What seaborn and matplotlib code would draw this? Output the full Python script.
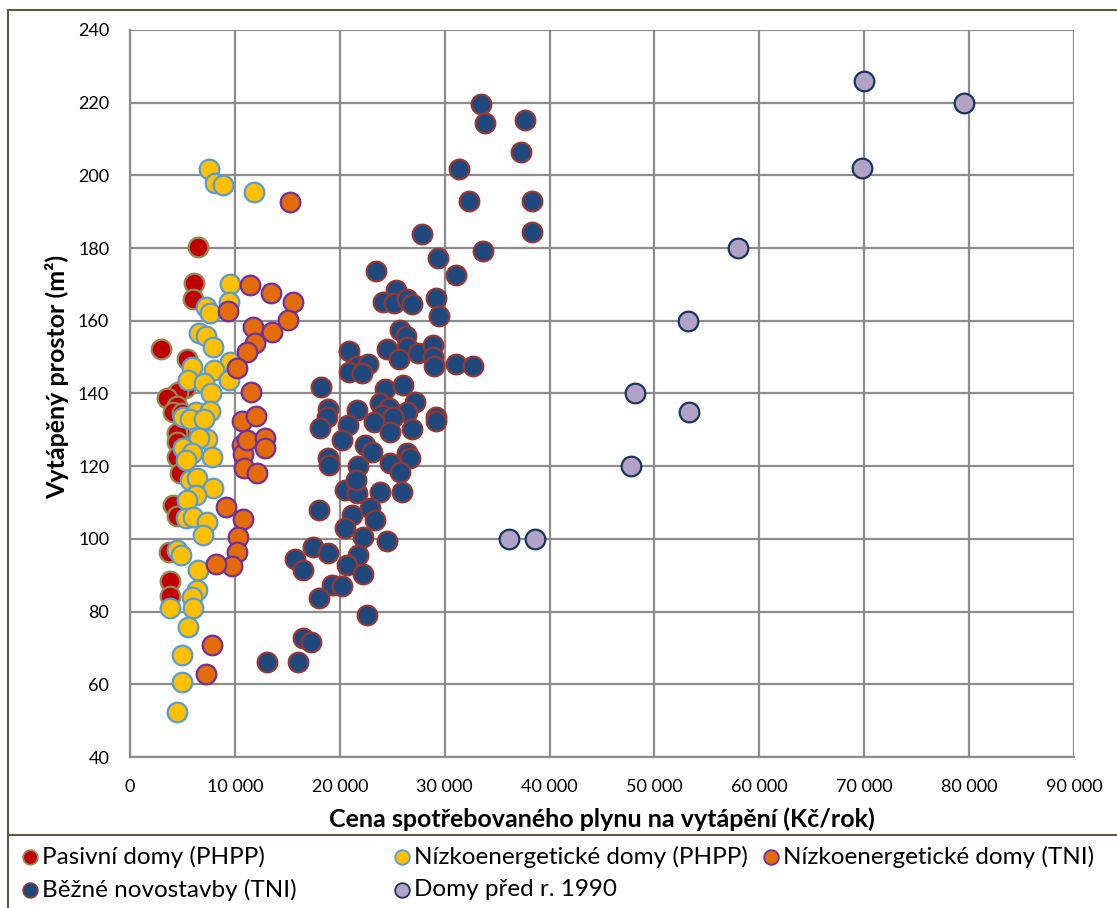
import matplotlib
matplotlib.use("Agg")
import matplotlib.pyplot as plt
from matplotlib.patches import Rectangle
from matplotlib.lines import Line2D
import seaborn as sns
import pandas as pd

# --- data -------------------------------------------------------------
series_names = [
    "Pasivní domy (PHPP)",
    "Nízkoenergetické domy (PHPP)",
    "Nízkoenergetické domy (TNI)",
    "Běžné novostavby (TNI)",
    "Domy před r. 1990",
]

pasivni_x = [6500, 6100, 6000, 3000, 5400, 5200, 4600, 3500, 4500, 4100, 5000,
             4800, 4500, 4500, 4500, 4800, 4100, 4500, 3700, 3800, 3800]
pasivni_y = [180.3, 170.5, 166.0, 152.3, 149.5, 141.5, 140.4, 138.8, 136.5, 135.0, 134.5,
             129.4, 129.0, 126.6, 122.4, 118.0, 109.3, 106.4, 96.4, 88.5, 84.4]

nizko_phpp_x = [7500, 8100, 8900, 11800, 9500, 9400, 7200, 7600, 6600, 7200, 7900,
                5900, 9500, 8000, 5500, 7100, 9400, 7700, 6300, 7600, 5100, 5700,
                7100, 7300, 6600, 5100, 5900, 7800, 5300, 5700, 6400, 7900, 6300,
                5400, 5300, 6000, 7300, 7000, 4500, 4900, 6500, 6400, 5900, 3800,
                6000, 5500, 5000, 5000, 4500]
nizko_phpp_y = [201.8, 197.9, 197.4, 195.4, 170.1, 165.2, 163.8, 162.1, 156.6, 155.8, 152.8,
                147.3, 148.7, 146.5, 143.7, 142.9, 143.7, 140.1, 134.8, 135.3, 133.5, 133.1,
                133.1, 127.5, 127.8, 125.0, 123.6, 122.5, 121.7, 116.2, 116.8, 114.0, 112.1,
                110.7, 105.8, 106.0, 104.7, 101.0, 97.0, 95.6, 91.5, 85.9, 84.0, 81.0,
                81.0, 75.8, 68.1, 60.6, 52.4]

nizko_tni_x = [15300, 11400, 13400, 15500, 9300, 11700, 15100, 13500, 11900, 11200,
               10200, 11500, 10700, 12000, 10700, 10800, 11200, 12900, 12900, 10900,
               12100, 9200, 10800, 10300, 10200, 9700, 8200, 7800, 7200]
nizko_tni_y = [192.7, 169.8, 167.6, 165.2, 162.7, 158.3, 160.2, 156.9, 153.9, 151.4,
               147.0, 140.5, 132.4, 133.8, 125.8, 123.4, 127.2, 127.8, 125.0, 119.5,
               118.1, 108.8, 105.5, 100.5, 96.4, 92.5, 93.1, 70.8, 62.8]

bezne_x = [33500, 37700, 33800, 37300, 31400, 32300, 38300, 27800, 38300, 33700,
           29400, 23500, 31100, 25400, 24100, 25200, 26400, 26900, 29200, 29500,
           25700, 26300, 24500, 26400, 25600, 27500, 28900, 28900, 29000, 31100,
           32700, 20900, 21600, 22700, 20900, 22100, 18200, 24300, 26000, 27200,
           18900, 21600, 23800, 25000, 26400, 29200, 24700, 18800, 18100, 20800,
           24000, 25100, 29200, 23300, 24800, 26900, 20200, 22400, 23100, 26400,
           18900, 19000, 21700, 26700, 24800, 25700, 20500, 21600, 23800, 25900,
           21500, 22900, 23400, 18000, 21200, 20500, 22200, 24500, 17400, 18900,
           21700, 15700, 16500, 20700, 22200, 19300, 20200, 18000, 22600, 16500,
           17300, 13100, 16000]
bezne_y = [219.6, 215.2, 214.4, 206.4, 201.8, 193.0, 193.0, 183.9, 184.4, 179.2,
           177.3, 173.7, 172.6, 168.5, 165.2, 164.9, 166.0, 164.6, 166.3, 161.3,
           157.5, 155.8, 152.2, 152.8, 149.5, 151.1, 153.3, 150.0, 147.6, 148.1,
           147.6, 151.7, 147.6, 148.1, 145.9, 145.6, 141.8, 141.2, 142.3, 137.7,
           135.7, 135.5, 137.4, 134.9, 134.9, 133.5, 136.0, 133.4, 130.5, 131.3,
           134.1, 133.5, 132.4, 132.2, 129.4, 130.2, 127.2, 125.8, 123.9, 123.6,
           122.3, 120.3, 120.0, 122.3, 120.9, 118.4, 113.5, 112.6, 112.9, 112.9,
           116.2, 108.4, 105.2, 108.0, 106.6, 103.0, 100.5, 99.4, 97.8, 96.1,
           95.6, 94.5, 91.5, 92.8, 90.3, 87.3, 87.0, 83.7, 79.0, 72.7,
           71.6, 66.1, 66.1]

pred1990_x = [70000, 79500, 69800, 58000, 53200, 48100, 53300, 47800, 36100, 38600]
pred1990_y = [226.0, 220.0, 202.0, 180.0, 160.0, 140.0, 135.0, 120.0, 100.0, 100.0]

x_ticks = [0, 10000, 20000, 30000, 40000, 50000, 60000, 70000, 80000, 90000]
x_tick_labels = ["0", "10 000", "20 000", "30 000", "40 000", "50 000",
                 "60 000", "70 000", "80 000", "90 000"]
y_ticks = [40, 60, 80, 100, 120, 140, 160, 180, 200, 220, 240]

# --- styling ------------------------------------------------------------
fills = ["#C00000", "#FFC000", "#E36C09", "#1F497D", "#B3A2C7"]
edges = ["#948A54", "#5B9BD5", "#7030A0", "#953735", "#17375E"]
grid_col = "#8C8C8C"

sns.set_theme(style="white")
plt.rcParams["font.family"] = ["Lato", "DejaVu Sans"]

frames = []
for name, xs, ys in zip(series_names,
                        [pasivni_x, nizko_phpp_x, nizko_tni_x, bezne_x, pred1990_x],
                        [pasivni_y, nizko_phpp_y, nizko_tni_y, bezne_y, pred1990_y]):
    frames.append(pd.DataFrame({"cena": xs, "plocha": ys, "skupina": name}))
df = pd.concat(frames, ignore_index=True)

fig = plt.figure(figsize=(11.17, 9.08), dpi=100)
ax = fig.add_axes([130 / 1117, 1 - 757 / 908, 944 / 1117, 727 / 908])

for name, fc, ec in zip(series_names, fills, edges):
    sub = df[df["skupina"] == name]
    sns.scatterplot(data=sub, x="cena", y="plocha", ax=ax, color=fc,
                    edgecolor=ec, linewidth=1.6, s=200, legend=False, zorder=3)

ax.set_xlim(0, 90000)
ax.set_ylim(40, 240)
ax.set_xticks(x_ticks)
ax.set_xticklabels(x_tick_labels)
ax.set_yticks(y_ticks)
ax.grid(True, color=grid_col, linewidth=1.6)
ax.set_axisbelow(True)
for side in ["top", "right"]:
    ax.spines[side].set_visible(False)
for side in ["left", "bottom"]:
    ax.spines[side].set_color(grid_col)
    ax.spines[side].set_linewidth(1.6)
ax.tick_params(axis="both", direction="out", length=6, width=1.6,
               color=grid_col, labelsize=13, labelcolor="black")
ax.tick_params(axis="x", pad=10)
ax.tick_params(axis="y", pad=9)

ax.set_xlabel("Cena spotřebovaného plynu na vytápění (Kč/rok)",
              fontsize=18, fontweight="bold", color="black")
ax.set_ylabel("Vytápěný prostor (m²)", fontsize=18, fontweight="bold", color="black")
ax.xaxis.set_label_coords(0.5, -0.069)
ax.yaxis.set_label_coords(-0.064, 0.523)

# outer chart frame and legend box
fig.add_artist(Rectangle((8 / 1117, -0.05), 1.2, 1 - 10 / 908 + 0.05,
                         transform=fig.transFigure, fill=False,
                         edgecolor="#5E5A45", linewidth=1.5))
fig.add_artist(Line2D([8 / 1117, 1.0], [1 - 835 / 908, 1 - 835 / 908],
                      transform=fig.transFigure, color="#5E5A45", linewidth=1.5))

# legend entries laid out in two rows
legend_slots = [(30, 857), (402, 857), (771, 857), (30, 890), (402, 890)]
for name, fc, ec, (px, py) in zip(series_names, fills, edges, legend_slots):
    fx, fy = px / 1117, 1 - py / 908
    fig.add_artist(Line2D([fx], [fy], transform=fig.transFigure, marker="o",
                          markersize=10.5, markerfacecolor=fc, markeredgecolor=ec,
                          markeredgewidth=1.3, linestyle="none"))
    fig.text(fx + 12 / 1117, fy, name, fontsize=17.5, va="center", ha="left",
             color="black")

fig.savefig("out.png", dpi=100)
